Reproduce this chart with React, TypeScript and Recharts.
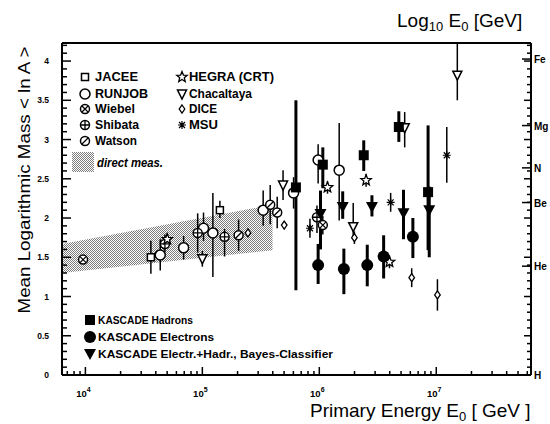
import React from "react";
import { ComposedChart, Area, Scatter, ErrorBar, XAxis, YAxis } from "recharts";

const FONT = "'Liberation Sans', Arial, Helvetica, sans-serif";

// direct measurements band (log10 E0, lower / upper <ln A>)
const bandLogE = [3.8, 5.6];
const bandLow = [1.3, 1.59];
const bandHigh = [1.67, 2.17];

// each data set: log10 E0, <ln A>, error down, error up
const jaceeE = [4.56, 5.15];
const jaceeA = [1.5, 2.1];
const jaceeLo = [0.21, 0.1];
const jaceeHi = [0.21, 0.12];

const runjobE = [4.64, 4.84, 5.01, 5.09, 5.52, 5.78, 5.99, 6.17];
const runjobA = [1.53, 1.62, 1.87, 1.81, 2.1, 2.32, 2.74, 2.61];
const runjobLo = [0.2, 0.15, 0.16, 0.56, 0.2, 0.2, 0.3, 0.64];
const runjobHi = [0.2, 0.15, 0.2, 0.51, 0.25, 0.2, 0.2, 0.6];

const wiebelE = [3.98, 6.03];
const wiebelA = [1.47, 1.91];
const wiebelLo = [0.05, 0.12];
const wiebelHi = [0.05, 0.12];

const shibataE = [4.68, 4.96, 5.19, 5.98];
const shibataA = [1.67, 1.81, 1.76, 2.01];
const shibataLo = [0.1, 0.25, 0.25, 0.2];
const shibataHi = [0.12, 0.25, 0.1, 0.15];

const watsonE = [5.31, 5.58, 5.64];
const watsonA = [1.78, 2.17, 2.07];
const watsonLo = [0.2, 0.25, 0.2];
const watsonHi = [0.2, 0.25, 0.2];

const hegraE = [4.7, 6.07, 6.4, 6.6];
const hegraA = [1.73, 2.39, 2.48, 1.44];
const hegraLo = [0.08, 0.08, 0.08, 0.08];
const hegraHi = [0.08, 0.08, 0.08, 0.08];

const chacE = [5.0, 5.69, 6.29, 6.73, 7.18];
const chacA = [1.48, 2.42, 1.89, 3.15, 3.82];
const chacLo = [0.1, 0.19, 0.15, 0.25, 0.32];
const chacHi = [0.1, 0.19, 0.3, 0.2, 0.41];

const diceE = [5.39, 5.7, 6.3, 6.79, 7.01];
const diceA = [1.81, 1.91, 1.75, 1.24, 1.02];
const diceLo = [0.05, 0.05, 0.08, 0.12, 0.2];
const diceHi = [0.05, 0.05, 0.08, 0.12, 0.2];

const msuE = [5.92, 6.61, 7.09];
const msuA = [1.87, 2.2, 2.8];
const msuLo = [0.12, 0.12, 0.35];
const msuHi = [0.12, 0.12, 0.36];

const hadronsE = [5.8, 6.03, 6.38, 6.68, 6.93];
const hadronsA = [2.39, 2.68, 2.8, 3.16, 2.33];
const hadronsLo = [1.31, 0.3, 0.2, 0.19, 0.74];
const hadronsHi = [1.11, 0.22, 0.19, 0.2, 0.85];

const electronsE = [5.99, 6.21, 6.41, 6.55, 6.8];
const electronsA = [1.4, 1.35, 1.4, 1.51, 1.76];
const electronsLo = [0.24, 0.32, 0.27, 0.28, 0.27];
const electronsHi = [0.27, 0.26, 0.26, 0.27, 0.24];

const bayesE = [6.01, 6.2, 6.45, 6.72, 6.94];
const bayesA = [2.05, 2.14, 2.14, 2.06, 2.1];
const bayesLo = [0.45, 0.15, 0.12, 0.33, 0.6];
const bayesHi = [0.3, 0.2, 0.15, 0.3, 0.3];

// axes
const topMajor = [4, 4.5, 5, 5.5, 6, 6.5, 7, 7.5];
const topLabels = ["4", "4.5", "5", "5.5", "6", "6.5", "7", "7.5"];
const bottomMajor = [4, 5, 6, 7];
const leftMajor = [0, 0.5, 1, 1.5, 2, 2.5, 3, 3.5, 4];
const leftLabels = ["0", "0.5", "1", "1.5", "2", "2.5", "3", "3.5", "4"];
const elements = ["H", "He", "Be", "N", "Mg", "Fe"];
const elementMass = [1, 4, 9, 14, 24, 56];

const X_DOMAIN: [number, number] = [3.8, 7.81];
const Y_DOMAIN: [number, number] = [0, 4.23];

const near = (a: number, b: number) => Math.abs(a - b) < 1e-6;

const topTicks: number[] = [];
for (let i = 38; i <= 78; i++) topTicks.push(i / 10);
const yTicks: number[] = [];
for (let i = 0; i <= 42; i++) yTicks.push(i / 10);
const bottomTicks: number[] = [];
for (let n = 3; n <= 7; n++)
  for (let k = 1; k <= 9; k++) {
    const v = n + Math.log10(k);
    if (v >= X_DOMAIN[0] && v <= X_DOMAIN[1]) bottomTicks.push(v);
  }
const elementLnA = elementMass.map((a) => Math.log(a));
const rightTicks = [...yTicks, ...elementLnA.filter((v) => v > 0)];

const pts = (E: number[], A: number[], lo: number[], hi: number[]) =>
  E.map((x, i) => ({ x, y: A[i], err: [lo[i], hi[i]] }));

const bandData = bandLogE.map((x, i) => ({ x, band: [bandLow[i], bandHigh[i]] }));

type Kind =
  | "jacee" | "runjob" | "wiebel" | "shibata" | "watson" | "hegra"
  | "chac" | "dice" | "msu" | "hadrons" | "electrons" | "bayes";

function starPoints(cx: number, cy: number, ro: number, ri: number) {
  const p: string[] = [];
  for (let i = 0; i < 10; i++) {
    const r = i % 2 === 0 ? ro : ri;
    const a = -Math.PI / 2 + (i * Math.PI) / 5;
    p.push(`${cx + r * Math.cos(a)},${cy + r * Math.sin(a)}`);
  }
  return p.join(" ");
}

function Marker({ kind, cx, cy }: { kind: Kind; cx: number; cy: number }) {
  const k = "#000";
  switch (kind) {
    case "jacee":
      return <rect x={cx - 3.5} y={cy - 3.5} width={7} height={7} fill="#fff" stroke={k} strokeWidth={1.5} />;
    case "runjob":
      return <circle cx={cx} cy={cy} r={5} fill="#fff" stroke={k} strokeWidth={1.5} />;
    case "wiebel":
      return (
        <g>
          <circle cx={cx} cy={cy} r={4.5} fill="#fff" stroke={k} strokeWidth={1.5} />
          <path d={`M${cx - 3} ${cy - 3}L${cx + 3} ${cy + 3}M${cx + 3} ${cy - 3}L${cx - 3} ${cy + 3}`} stroke={k} strokeWidth={1.3} />
        </g>
      );
    case "shibata":
      return (
        <g>
          <circle cx={cx} cy={cy} r={4.5} fill="#fff" stroke={k} strokeWidth={1.5} />
          <path d={`M${cx - 4} ${cy}L${cx + 4} ${cy}M${cx} ${cy - 4}L${cx} ${cy + 4}`} stroke={k} strokeWidth={1.3} />
        </g>
      );
    case "watson":
      return (
        <g>
          <circle cx={cx} cy={cy} r={4.5} fill="#fff" stroke={k} strokeWidth={1.5} />
          <path d={`M${cx - 3.5} ${cy + 3.5}L${cx + 3.5} ${cy - 3.5}`} stroke={k} strokeWidth={1.3} />
        </g>
      );
    case "hegra":
      return <polygon points={starPoints(cx, cy, 5.5, 2.4)} fill="#fff" stroke={k} strokeWidth={1.3} />;
    case "chac":
      return <polygon points={`${cx - 4.5},${cy - 4} ${cx + 4.5},${cy - 4} ${cx},${cy + 5}`} fill="#fff" stroke={k} strokeWidth={1.5} />;
    case "dice":
      return <polygon points={`${cx},${cy - 4} ${cx + 2.8},${cy} ${cx},${cy + 4} ${cx - 2.8},${cy}`} fill="#fff" stroke={k} strokeWidth={1.3} />;
    case "msu":
      return (
        <path
          d={`M${cx - 4} ${cy}L${cx + 4} ${cy}M${cx} ${cy - 4}L${cx} ${cy + 4}M${cx - 3} ${cy - 3}L${cx + 3} ${cy + 3}M${cx + 3} ${cy - 3}L${cx - 3} ${cy + 3}`}
          stroke={k}
          strokeWidth={1.2}
        />
      );
    case "hadrons":
      return <rect x={cx - 5} y={cy - 5} width={10} height={10} fill={k} />;
    case "electrons":
      return <circle cx={cx} cy={cy} r={6} fill={k} />;
    case "bayes":
      return <polygon points={`${cx - 6},${cy - 5} ${cx + 6},${cy - 5} ${cx},${cy + 6}`} fill={k} />;
  }
  return null;
}

function TopTick(props: any) {
  const { x, y, payload } = props;
  const v = payload.value as number;
  const mi = topMajor.findIndex((m) => near(m, v));
  const major = mi >= 0;
  return (
    <g>
      <line x1={x} x2={x} y1={y} y2={y + (major ? 7 : 4)} stroke="#000" strokeWidth={1.5} />
      {major && (
        <text x={x} y={y - 5} textAnchor="middle" fontSize={8.5} fontWeight="bold" fontFamily={FONT} fill="#000">
          {topLabels[mi]}
        </text>
      )}
    </g>
  );
}

function BottomTick(props: any) {
  const { x, y, payload } = props;
  const v = payload.value as number;
  const major = bottomMajor.some((m) => near(m, v));
  return (
    <g>
      <line x1={x} x2={x} y1={y} y2={y - (major ? 8 : 4)} stroke="#000" strokeWidth={1.5} />
      {major && (
        <text x={x - 2} y={y + 22} textAnchor="middle" fontSize={9.5} fontWeight="bold" fontFamily={FONT} fill="#000">
          10
          <tspan dy={-5} fontSize={7}>{Math.round(v)}</tspan>
        </text>
      )}
    </g>
  );
}

function LeftTick(props: any) {
  const { x, y, payload } = props;
  const v = payload.value as number;
  const mi = leftMajor.findIndex((m) => near(m, v));
  const major = mi >= 0;
  return (
    <g>
      <line x1={x} x2={x + (major ? 9 : 5)} y1={y} y2={y} stroke="#000" strokeWidth={1.5} />
      {major && (
        <text x={x - 13} y={y + 3} textAnchor="end" fontSize={8.5} fontWeight="bold" fontFamily={FONT} fill="#000">
          {leftLabels[mi]}
        </text>
      )}
    </g>
  );
}

function RightTick(props: any) {
  const { x, y, payload } = props;
  const v = payload.value as number;
  const ei = elementLnA.findIndex((m) => near(m, v));
  const major = leftMajor.some((m) => near(m, v));
  const elem = ei >= 0;
  const len = elem ? 9 : major ? 7 : 4;
  return (
    <g>
      <line x1={x} x2={x - len} y1={y} y2={y} stroke="#000" strokeWidth={1.5} />
      {elem && (
        <text x={x + 3} y={y + 4} textAnchor="start" fontSize={10} fontWeight="bold" fontFamily={FONT} fill="#000">
          {elements[ei]}
        </text>
      )}
    </g>
  );
}

const series: { kind: Kind; data: any[]; thick?: boolean }[] = [
  { kind: "jacee", data: pts(jaceeE, jaceeA, jaceeLo, jaceeHi) },
  { kind: "runjob", data: pts(runjobE, runjobA, runjobLo, runjobHi) },
  { kind: "wiebel", data: pts(wiebelE, wiebelA, wiebelLo, wiebelHi) },
  { kind: "shibata", data: pts(shibataE, shibataA, shibataLo, shibataHi) },
  { kind: "watson", data: pts(watsonE, watsonA, watsonLo, watsonHi) },
  { kind: "hegra", data: pts(hegraE, hegraA, hegraLo, hegraHi) },
  { kind: "chac", data: pts(chacE, chacA, chacLo, chacHi) },
  { kind: "dice", data: pts(diceE, diceA, diceLo, diceHi) },
  { kind: "msu", data: pts(msuE, msuA, msuLo, msuHi) },
  { kind: "hadrons", data: pts(hadronsE, hadronsA, hadronsLo, hadronsHi), thick: true },
  { kind: "electrons", data: pts(electronsE, electronsA, electronsLo, electronsHi), thick: true },
  { kind: "bayes", data: pts(bayesE, bayesA, bayesLo, bayesHi), thick: true },
];

const legendLeft: { kind: Kind; label: string; w: number }[] = [
  { kind: "jacee", label: "JACEE", w: 43 },
  { kind: "runjob", label: "RUNJOB", w: 53 },
  { kind: "wiebel", label: "Wiebel", w: 40 },
  { kind: "shibata", label: "Shibata", w: 44 },
  { kind: "watson", label: "Watson", w: 42 },
];
const legendRight: { kind: Kind; label: string; w: number }[] = [
  { kind: "hegra", label: "HEGRA (CRT)", w: 85 },
  { kind: "chac", label: "Chacaltaya", w: 63 },
  { kind: "dice", label: "DICE", w: 28 },
  { kind: "msu", label: "MSU", w: 29 },
];
const legendKascade: { kind: Kind; label: string; w: number }[] = [
  { kind: "hadrons", label: "KASCADE Hadrons", w: 95 },
  { kind: "electrons", label: "KASCADE Electrons", w: 116 },
  { kind: "bayes", label: "KASCADE Electr.+Hadr., Bayes-Classifier", w: 235 },
];
const legendRowY = [77, 94, 109, 125, 141];
const kascadeRowY = [320, 337, 354];

function Pattern({ id }: { id: string }) {
  return (
    <pattern id={id} width={2} height={2} patternUnits="userSpaceOnUse">
      <rect width={2} height={2} fill="#fff" />
      <rect width={1} height={1} fill="#7c7c7c" />
      <rect x={1} y={1} width={1} height={1} fill="#7c7c7c" />
    </pattern>
  );
}

const noShape = () => <g />;

export default function App() {
  const txt = { fontFamily: FONT, fill: "#000" };
  return (
    <div style={{ position: "absolute", left: 0, top: 0, width: 550, height: 424, background: "#fff" }}>
      <ComposedChart width={550} height={424} margin={{ top: 13, right: 0, bottom: 19, left: 22 }}>
        <defs>
          <Pattern id="dither" />
        </defs>
        <XAxis
          xAxisId="b"
          type="number"
          dataKey="x"
          domain={X_DOMAIN}
          allowDataOverflow
          ticks={bottomTicks}
          interval={0}
          tick={<BottomTick />}
          tickLine={false}
          tickSize={0}
          tickMargin={0}
          height={30}
          axisLine={{ stroke: "#000", strokeWidth: 2 }}
        />
        <XAxis
          xAxisId="t"
          orientation="top"
          type="number"
          domain={X_DOMAIN}
          allowDataOverflow
          ticks={topTicks}
          interval={0}
          tick={<TopTick />}
          tickLine={false}
          tickSize={0}
          tickMargin={0}
          height={30}
          axisLine={{ stroke: "#000", strokeWidth: 2 }}
        />
        <YAxis
          yAxisId="l"
          type="number"
          domain={Y_DOMAIN}
          allowDataOverflow
          ticks={yTicks}
          interval={0}
          tick={<LeftTick />}
          tickLine={false}
          tickSize={0}
          tickMargin={0}
          width={40}
          axisLine={{ stroke: "#000", strokeWidth: 2 }}
        />
        <YAxis
          yAxisId="r"
          orientation="right"
          type="number"
          domain={Y_DOMAIN}
          allowDataOverflow
          ticks={rightTicks}
          interval={0}
          tick={<RightTick />}
          tickLine={false}
          tickSize={0}
          tickMargin={0}
          width={19}
          axisLine={{ stroke: "#000", strokeWidth: 2 }}
        />
        <Area
          xAxisId="b"
          yAxisId="l"
          data={bandData}
          dataKey="band"
          type="linear"
          stroke="none"
          fill="url(#dither)"
          fillOpacity={1}
          isAnimationActive={false}
        />
        {/* error bars first, markers on top */}
        {series.map((s) => (
          <Scatter
            key={`${s.kind}-err`}
            xAxisId="b"
            yAxisId="l"
            data={s.data}
            dataKey="y"
            isAnimationActive={false}
            shape={noShape}
          >
            <ErrorBar
              dataKey="err"
              direction="y"
              width={0}
              stroke="#000"
              strokeWidth={s.thick ? 3 : 1.5}
              isAnimationActive={false}
            />
          </Scatter>
        ))}
        {series.map((s) => (
          <Scatter
            key={s.kind}
            xAxisId="b"
            yAxisId="l"
            data={s.data}
            dataKey="y"
            isAnimationActive={false}
            shape={(p: any) => <Marker kind={s.kind} cx={p.cx} cy={p.cy} />}
          />
        ))}
      </ComposedChart>
      <svg width={550} height={424} style={{ position: "absolute", left: 0, top: 0, pointerEvents: "none" }}>
        <defs>
          <Pattern id="dither2" />
        </defs>
        {legendLeft.map((l, i) => (
          <g key={l.label}>
            <Marker kind={l.kind} cx={85} cy={legendRowY[i]} />
            <text x={95} y={legendRowY[i] + 4} fontSize={12} fontWeight="bold" textLength={l.w} lengthAdjust="spacingAndGlyphs" {...txt}>
              {l.label}
            </text>
          </g>
        ))}
        <rect x={72} y={152} width={22} height={20} fill="url(#dither2)" />
        <text x={97} y={167} fontSize={12} fontWeight="bold" fontStyle="italic" textLength={66} lengthAdjust="spacingAndGlyphs" {...txt}>
          direct meas.
        </text>
        {legendRight.map((l, i) => (
          <g key={l.label}>
            <Marker kind={l.kind} cx={182} cy={legendRowY[i]} />
            <text x={189} y={legendRowY[i] + 4} fontSize={12} fontWeight="bold" textLength={l.w} lengthAdjust="spacingAndGlyphs" {...txt}>
              {l.label}
            </text>
          </g>
        ))}
        {legendKascade.map((l, i) => (
          <g key={l.label}>
            <Marker kind={l.kind} cx={90} cy={kascadeRowY[i]} />
            <text x={98} y={kascadeRowY[i] + 4} fontSize={10.5} fontWeight="bold" textLength={l.w} lengthAdjust="spacingAndGlyphs" {...txt}>
              {l.label}
            </text>
          </g>
        ))}
        <text x={397} y={27} fontSize={19} {...txt}>
          Log
          <tspan fontSize={13} dy={4}>10</tspan>
          <tspan dy={-4}> E</tspan>
          <tspan fontSize={13} dy={4}>0</tspan>
          <tspan dy={-4}> [GeV]</tspan>
        </text>
        <text x={310} y={417} fontSize={19} {...txt}>
          Primary Energy E
          <tspan fontSize={13} dy={4}>0</tspan>
          <tspan dy={-4}> [ GeV ]</tspan>
        </text>
        <text
          x={30}
          y={180}
          fontSize={17}
          textAnchor="middle"
          transform="rotate(-90 30 180)"
          textLength={267}
          lengthAdjust="spacingAndGlyphs"
          {...txt}
        >
          Mean Logarithmic Mass &lt; ln A &gt;
        </text>
      </svg>
    </div>
  );
}
